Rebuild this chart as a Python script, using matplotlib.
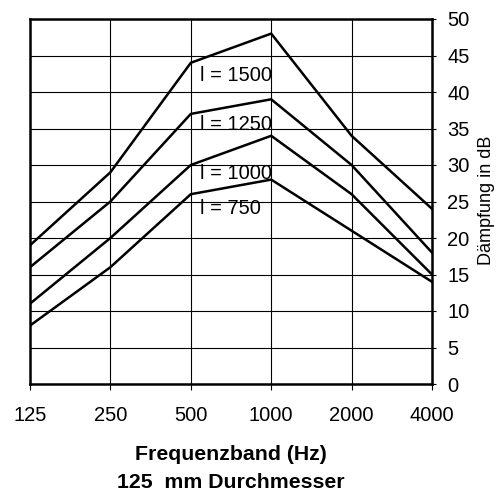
import matplotlib
matplotlib.use("Agg")
import matplotlib.pyplot as plt
import numpy as np

plt.rcParams['font.family'] = ['Liberation Sans', 'DejaVu Sans']

# data
freqs = ["125", "250", "500", "1000", "2000", "4000"]
l_1500 = [19, 29, 44, 48, 34, 24]
l_1250 = [16, 25, 37, 39, 30, 18]
l_1000 = [11, 20, 30, 34, 26, 15]
l_750 = [8, 16, 26, 28, 21, 14]
series = [("l = 1500", l_1500, 42.3), ("l = 1250", l_1250, 35.6),
          ("l = 1000", l_1000, 28.9), ("l = 750", l_750, 24.1)]

fig = plt.figure(figsize=(5.01, 4.96), dpi=100)
ax = fig.add_axes([30 / 501, 1 - 384 / 496, 402 / 501, 365 / 496])

x = np.arange(len(freqs))
for label, vals, ly in series:
    ax.plot(x, vals, color="black", lw=1.8, solid_joinstyle="miter")
    # curve label, to the right of the 500 Hz gridline
    ax.text(2.12, ly, label, fontsize=14.5, va="center", ha="left")

ax.set_xlim(0, len(freqs) - 1)
ax.set_ylim(0, 50)
ax.set_xticks(x)
ax.set_xticklabels(freqs)
ax.set_yticks(np.arange(0, 51, 5))

ax.yaxis.tick_right()
ax.tick_params(axis="x", length=4, width=0.8, pad=12, labelsize=14.5)
ax.tick_params(axis="y", length=3, width=0.8, pad=8, labelsize=14.5)

ax.grid(True, color="black", lw=0.8)
ax.set_axisbelow(True)
for sp in ax.spines.values():
    sp.set_linewidth(1.8)

fig.text(0.972, 1 - 200 / 496, "Dämpfung in dB", rotation=90,
         ha="center", va="center", fontsize=13)
fig.text(231 / 501, 1 - 455 / 496, "Frequenzband (Hz)", ha="center",
         va="center", fontsize=15.3, fontweight="bold")
fig.text(231 / 501, 1 - 482 / 496, "125  mm Durchmesser", ha="center",
         va="center", fontsize=15.3, fontweight="bold")

fig.savefig("out.png", dpi=100)
